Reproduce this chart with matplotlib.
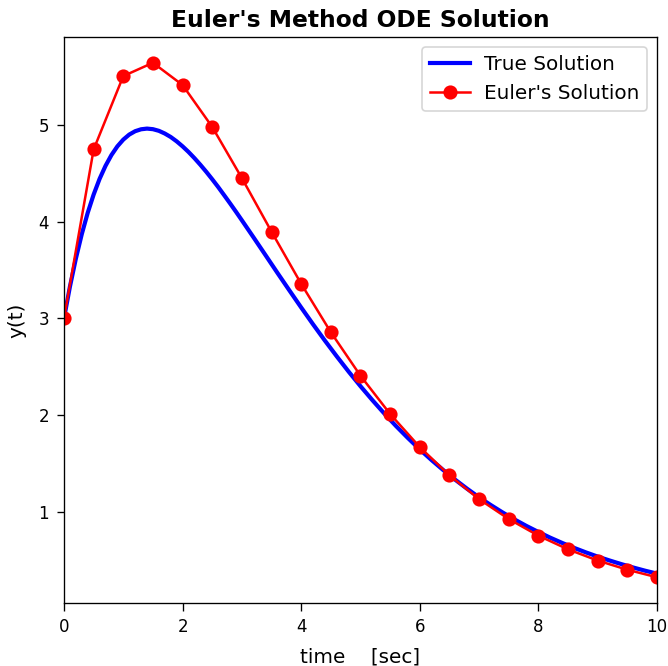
import matplotlib
matplotlib.use("Agg")
import matplotlib.pyplot as plt

# True solution: dense samples over the rise and peak, coarser on the decay
t_true = [0.0, 0.1, 0.2, 0.3, 0.4, 0.5, 0.6, 0.7, 0.8, 0.9, 1.0, 1.1, 1.2, 1.3, 1.4,
          1.5, 1.6, 1.7, 1.8, 1.9, 2.0, 2.1, 2.2, 2.3, 2.4, 2.5, 2.6, 2.7, 2.8, 2.9,
          3.0, 3.2, 3.4, 3.6, 3.8, 4.0, 4.2, 4.4, 4.6, 4.8, 5.0, 5.2, 5.4, 5.6, 5.8,
          6.0, 6.2, 6.4, 6.6, 6.8, 7.0, 7.2, 7.4, 7.6, 7.8, 8.0, 8.2, 8.4, 8.6, 8.8,
          9.0, 9.2, 9.4, 9.6, 9.8, 10.0]
y_true = [3.000, 3.329, 3.619, 3.873, 4.094, 4.283, 4.445, 4.580, 4.692, 4.782,
          4.852, 4.904, 4.939, 4.959, 4.966, 4.960, 4.943, 4.915, 4.879, 4.834,
          4.782, 4.724, 4.660, 4.591, 4.518, 4.441, 4.361, 4.277, 4.192, 4.105,
          4.016, 3.836, 3.654, 3.471, 3.291, 3.113, 2.939, 2.770, 2.607, 2.449,
          2.298, 2.154, 2.016, 1.885, 1.761, 1.643, 1.532, 1.427, 1.328, 1.235,
          1.147, 1.066, 0.989, 0.917, 0.850, 0.788, 0.729, 0.675, 0.624, 0.577,
          0.533, 0.493, 0.455, 0.420, 0.387, 0.357]

# Euler's method, step h = 0.5
t_euler = [0.0, 0.5, 1.0, 1.5, 2.0, 2.5, 3.0, 3.5, 4.0, 4.5, 5.0,
           5.5, 6.0, 6.5, 7.0, 7.5, 8.0, 8.5, 9.0, 9.5, 10.0]
y_euler = [3.000, 4.750, 5.510, 5.648, 5.417, 4.983, 4.453, 3.898, 3.358, 2.857,
           2.406, 2.010, 1.667, 1.375, 1.128, 0.922, 0.750, 0.608, 0.492, 0.397,
           0.319]

fig = plt.figure(figsize=(668 / 120, 666 / 120), dpi=120)
ax = fig.add_axes([0.0958, 0.0946, 0.8877, 0.8498])

ax.plot(t_true, y_true, color="blue", linewidth=2.5, label="True Solution")
ax.plot(t_euler, y_euler, color="red", linewidth=1.5, marker="o", markersize=7.5,
        label="Euler's Solution")

ax.set_xlim(0, 10)
ax.set_title("Euler's Method ODE Solution", fontsize=14, fontweight="bold")
ax.set_xlabel("time    [sec]", fontsize=12, labelpad=7)
ax.set_ylabel("y(t)", fontsize=12, labelpad=7.5)
ax.tick_params(labelsize=10, length=4.5, pad=4.5)
ax.legend(loc="upper right", fontsize=12, handlelength=2.0, handletextpad=0.7)

fig.savefig("out.png", dpi=120)
